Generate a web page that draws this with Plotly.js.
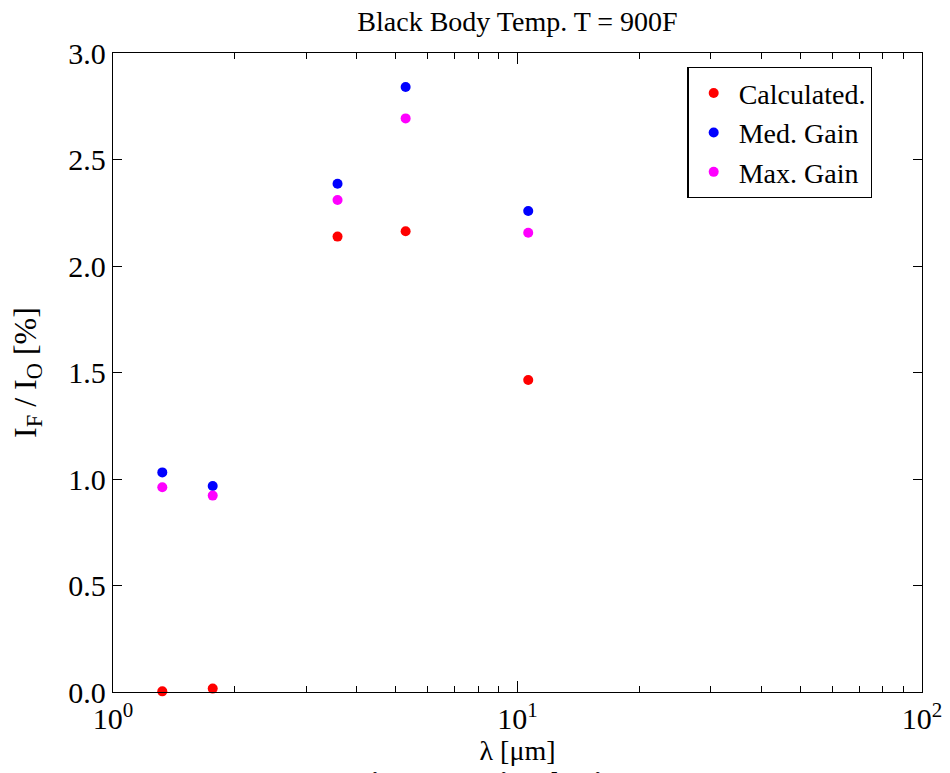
<!DOCTYPE html>
<html>
<head>
<meta charset="utf-8">
<script src="https://cdn.plot.ly/plotly-3.0.1.min.js"></script>
<style>body{margin:0;background:#fff;overflow:hidden;}#chart{width:950px;height:773px;}</style>
</head>
<body>
<div id="chart"></div>
<script>
const wavelengths = [1.324, 1.764, 3.59, 5.29, 10.63];
const calculated = [0.003, 0.016, 2.138, 2.163, 1.465];
const medGain = [1.031, 0.967, 2.386, 2.840, 2.258];
const maxGain = [0.961, 0.922, 2.310, 2.693, 2.156];
const seriesNames = ['Calculated.', 'Med. Gain', 'Max. Gain'];
const seriesColors = ['#ff0000', '#0000ff', '#ff00ff'];
const xTickVals = [1, 10, 100];
const xTickText = ['10<sup>0</sup>', '10<sup>1</sup>', '10<sup>2</sup>'];
const xMinorVals = [2, 3, 4, 5, 6, 7, 8, 9, 20, 30, 40, 50, 60, 70, 80, 90];
const yTickVals = [0, 0.5, 1.0, 1.5, 2.0, 2.5, 3.0];
const captionText = 'Figure #4: Signal gain at 900F';

const font = 'Liberation Serif, Times New Roman, serif';
const data = [calculated, medGain, maxGain].map((ys, i) => ({
  type: 'scatter', mode: 'markers', x: wavelengths, y: ys, name: seriesNames[i],
  marker: {color: seriesColors[i], size: 10}, cliponaxis: false
}));

const layout = {
  width: 950, height: 773,
  margin: {l: 113, r: 28, t: 53, b: 81},
  paper_bgcolor: '#fff', plot_bgcolor: '#fff',
  font: {family: font, color: '#000', size: 24},
  title: {text: 'Black Body Temp. T = 900F', font: {family: font, size: 28, color: '#000'}, x: 0.5, xanchor: 'center', y: 0.973, yanchor: 'middle', xref: 'paper'},
  xaxis: {
    type: 'log', range: [0, 2], showgrid: false, zeroline: false,
    showline: true, linecolor: '#000', linewidth: 1.3, mirror: 'ticks',
    ticks: 'inside', ticklen: 11, tickcolor: '#000',
    tickvals: xTickVals, ticktext: xTickText,
    tickfont: {family: font, size: 30},
    minor: {tickmode: 'array', tickvals: xMinorVals, ticks: 'inside', ticklen: 6, tickcolor: '#000', showgrid: false},
    title: {text: 'λ [μm]', font: {family: font, size: 28}, standoff: 2}
  },
  yaxis: {
    range: [0, 3], showgrid: false, zeroline: false,
    showline: true, linecolor: '#000', linewidth: 1.3, mirror: 'ticks',
    ticks: 'inside', ticklen: 9, tickcolor: '#000',
    tickvals: yTickVals, tickformat: '.1f',
    tickfont: {family: font, size: 30},
    title: {text: 'I<sub>F</sub> / I<sub>O</sub> [%]', font: {family: font, size: 32}, standoff: 22}
  },
  legend: {
    x: 0.710, y: 0.978, xanchor: 'left', yanchor: 'top',
    bordercolor: '#000', borderwidth: 1.3, bgcolor: '#fff',
    font: {family: font, size: 28}, tracegroupgap: 0, itemwidth: 40,
    entrywidth: 160, entrywidthmode: 'pixels'
  },
  annotations: [{
    text: '<b>' + captionText + '</b>', xref: 'paper', yref: 'paper',
    x: 0.52, y: -0.112, xanchor: 'center', yanchor: 'top', showarrow: false,
    font: {family: font, size: 28, color: '#000'}
  }],
  showlegend: true
};

Plotly.newPlot('chart', data, layout, {staticPlot: true});
</script>
</body>
</html>
